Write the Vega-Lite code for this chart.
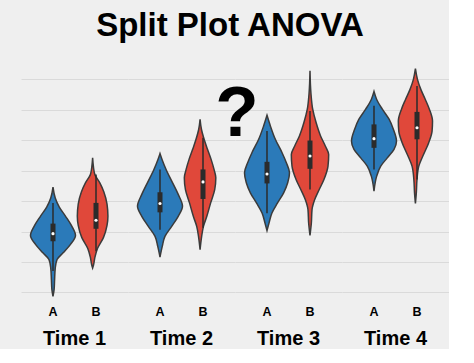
{
  "$schema": "https://vega.github.io/schema/vega-lite/v6.json",
  "background": "#efefef",
  "padding": {"left": 21, "top": 10, "right": 0, "bottom": 0},
  "bounds": "flush",
  "title": {"text": "Split Plot ANOVA", "fontSize": 33, "font": "Liberation Sans", "fontWeight": "bold", "color": "#000000", "anchor": "middle", "offset": 12, "dx": -5},
  "data": {"values": [
    {"t": "Time 1", "g": "A", "v": 3.46, "d": 0}, {"t": "Time 1", "g": "A", "v": 3.1, "d": 0.1}, {"t": "Time 1", "g": "A", "v": 2.8, "d": 0.28}, {"t": "Time 1", "g": "A", "v": 2.5, "d": 0.56}, {"t": "Time 1", "g": "A", "v": 2.17, "d": 0.84}, {"t": "Time 1", "g": "A", "v": 1.87, "d": 1.0}, {"t": "Time 1", "g": "A", "v": 1.57, "d": 0.77}, {"t": "Time 1", "g": "A", "v": 1.3, "d": 0.45}, {"t": "Time 1", "g": "A", "v": 1.08, "d": 0.18}, {"t": "Time 1", "g": "A", "v": 0.8, "d": 0.1}, {"t": "Time 1", "g": "A", "v": 0.4, "d": 0.07}, {"t": "Time 1", "g": "A", "v": 0.1, "d": 0.05}, {"t": "Time 1", "g": "A", "v": -0.13, "d": 0},
    {"t": "Time 1", "g": "B", "v": 4.42, "d": 0}, {"t": "Time 1", "g": "B", "v": 4.1, "d": 0.04}, {"t": "Time 1", "g": "B", "v": 3.87, "d": 0.1}, {"t": "Time 1", "g": "B", "v": 3.6, "d": 0.32}, {"t": "Time 1", "g": "B", "v": 3.3, "d": 0.5}, {"t": "Time 1", "g": "B", "v": 2.9, "d": 0.64}, {"t": "Time 1", "g": "B", "v": 2.5, "d": 0.68}, {"t": "Time 1", "g": "B", "v": 2.2, "d": 0.64}, {"t": "Time 1", "g": "B", "v": 1.8, "d": 0.48}, {"t": "Time 1", "g": "B", "v": 1.45, "d": 0.22}, {"t": "Time 1", "g": "B", "v": 1.15, "d": 0.1}, {"t": "Time 1", "g": "B", "v": 0.9, "d": 0.04}, {"t": "Time 1", "g": "B", "v": 0.8, "d": 0},
    {"t": "Time 2", "g": "A", "v": 4.56, "d": 0}, {"t": "Time 2", "g": "A", "v": 4.37, "d": 0.09}, {"t": "Time 2", "g": "A", "v": 4.04, "d": 0.27}, {"t": "Time 2", "g": "A", "v": 3.6, "d": 0.56}, {"t": "Time 2", "g": "A", "v": 3.22, "d": 0.81}, {"t": "Time 2", "g": "A", "v": 2.83, "d": 1.0}, {"t": "Time 2", "g": "A", "v": 2.5, "d": 0.81}, {"t": "Time 2", "g": "A", "v": 2.17, "d": 0.52}, {"t": "Time 2", "g": "A", "v": 1.84, "d": 0.22}, {"t": "Time 2", "g": "A", "v": 1.51, "d": 0.1}, {"t": "Time 2", "g": "A", "v": 1.16, "d": 0},
    {"t": "Time 2", "g": "B", "v": 5.69, "d": 0}, {"t": "Time 2", "g": "B", "v": 5.36, "d": 0.06}, {"t": "Time 2", "g": "B", "v": 5.03, "d": 0.18}, {"t": "Time 2", "g": "B", "v": 4.7, "d": 0.33}, {"t": "Time 2", "g": "B", "v": 4.37, "d": 0.49}, {"t": "Time 2", "g": "B", "v": 4.04, "d": 0.62}, {"t": "Time 2", "g": "B", "v": 3.77, "d": 0.7}, {"t": "Time 2", "g": "B", "v": 3.38, "d": 0.65}, {"t": "Time 2", "g": "B", "v": 2.94, "d": 0.47}, {"t": "Time 2", "g": "B", "v": 2.5, "d": 0.3}, {"t": "Time 2", "g": "B", "v": 2.17, "d": 0.15}, {"t": "Time 2", "g": "B", "v": 1.84, "d": 0.07}, {"t": "Time 2", "g": "B", "v": 1.4, "d": 0},
    {"t": "Time 3", "g": "A", "v": 5.82, "d": 0}, {"t": "Time 3", "g": "A", "v": 5.47, "d": 0.15}, {"t": "Time 3", "g": "A", "v": 5.03, "d": 0.37}, {"t": "Time 3", "g": "A", "v": 4.59, "d": 0.67}, {"t": "Time 3", "g": "A", "v": 4.26, "d": 0.86}, {"t": "Time 3", "g": "A", "v": 3.93, "d": 1.0}, {"t": "Time 3", "g": "A", "v": 3.6, "d": 0.92}, {"t": "Time 3", "g": "A", "v": 3.27, "d": 0.74}, {"t": "Time 3", "g": "A", "v": 2.94, "d": 0.47}, {"t": "Time 3", "g": "A", "v": 2.61, "d": 0.22}, {"t": "Time 3", "g": "A", "v": 2.28, "d": 0.09}, {"t": "Time 3", "g": "A", "v": 2.03, "d": 0},
    {"t": "Time 3", "g": "B", "v": 7.28, "d": 0}, {"t": "Time 3", "g": "B", "v": 6.56, "d": 0.04}, {"t": "Time 3", "g": "B", "v": 6.02, "d": 0.12}, {"t": "Time 3", "g": "B", "v": 5.58, "d": 0.27}, {"t": "Time 3", "g": "B", "v": 5.14, "d": 0.47}, {"t": "Time 3", "g": "B", "v": 4.81, "d": 0.68}, {"t": "Time 3", "g": "B", "v": 4.53, "d": 0.83}, {"t": "Time 3", "g": "B", "v": 4.15, "d": 0.8}, {"t": "Time 3", "g": "B", "v": 3.71, "d": 0.62}, {"t": "Time 3", "g": "B", "v": 3.38, "d": 0.41}, {"t": "Time 3", "g": "B", "v": 3.05, "d": 0.21}, {"t": "Time 3", "g": "B", "v": 2.72, "d": 0.09}, {"t": "Time 3", "g": "B", "v": 2.28, "d": 0.06}, {"t": "Time 3", "g": "B", "v": 1.87, "d": 0},
    {"t": "Time 4", "g": "A", "v": 6.6, "d": 0}, {"t": "Time 4", "g": "A", "v": 6.34, "d": 0.12}, {"t": "Time 4", "g": "A", "v": 6.02, "d": 0.37}, {"t": "Time 4", "g": "A", "v": 5.69, "d": 0.67}, {"t": "Time 4", "g": "A", "v": 5.36, "d": 0.86}, {"t": "Time 4", "g": "A", "v": 4.97, "d": 1.0}, {"t": "Time 4", "g": "A", "v": 4.7, "d": 0.89}, {"t": "Time 4", "g": "A", "v": 4.42, "d": 0.59}, {"t": "Time 4", "g": "A", "v": 4.15, "d": 0.3}, {"t": "Time 4", "g": "A", "v": 3.82, "d": 0.12}, {"t": "Time 4", "g": "A", "v": 3.33, "d": 0},
    {"t": "Time 4", "g": "B", "v": 7.35, "d": 0}, {"t": "Time 4", "g": "B", "v": 7.0, "d": 0.09}, {"t": "Time 4", "g": "B", "v": 6.67, "d": 0.24}, {"t": "Time 4", "g": "B", "v": 6.34, "d": 0.44}, {"t": "Time 4", "g": "B", "v": 6.02, "d": 0.62}, {"t": "Time 4", "g": "B", "v": 5.63, "d": 0.76}, {"t": "Time 4", "g": "B", "v": 5.3, "d": 0.74}, {"t": "Time 4", "g": "B", "v": 4.92, "d": 0.59}, {"t": "Time 4", "g": "B", "v": 4.48, "d": 0.33}, {"t": "Time 4", "g": "B", "v": 4.15, "d": 0.15}, {"t": "Time 4", "g": "B", "v": 3.71, "d": 0.07}, {"t": "Time 4", "g": "B", "v": 3.27, "d": 0.04}, {"t": "Time 4", "g": "B", "v": 2.92, "d": 0},
    {"t": "Time 1", "g": "A", "lo": 0.7, "q1": 1.68, "med": 1.93, "q3": 2.26, "hi": 2.94},
    {"t": "Time 1", "g": "B", "lo": 1.35, "q1": 2.09, "med": 2.37, "q3": 2.94, "hi": 3.87},
    {"t": "Time 2", "g": "A", "lo": 2.06, "q1": 2.63, "med": 2.92, "q3": 3.29, "hi": 4.04},
    {"t": "Time 2", "g": "B", "lo": 2.12, "q1": 3.07, "med": 3.63, "q3": 4.04, "hi": 5.08},
    {"t": "Time 3", "g": "A", "lo": 2.6, "q1": 3.58, "med": 3.89, "q3": 4.29, "hi": 5.3},
    {"t": "Time 3", "g": "B", "lo": 3.38, "q1": 4.06, "med": 4.48, "q3": 4.99, "hi": 5.96},
    {"t": "Time 4", "g": "A", "lo": 4.04, "q1": 4.75, "med": 5.05, "q3": 5.52, "hi": 6.13},
    {"t": "Time 4", "g": "B", "lo": 3.71, "q1": 5.03, "med": 5.41, "q3": 5.93, "hi": 6.78},
    {"t": "Time 3", "g": "A", "note": "?"}
  ]},
  "facet": {"column": {"field": "t", "type": "nominal", "header": {"title": null, "labelOrient": "bottom", "labelFontSize": 20, "labelFontWeight": "bold", "labelFont": "Liberation Sans", "labelColor": "#000000", "labelPadding": 29}}},
  "spacing": 0,
  "spec": {
    "width": 107,
    "height": 245,
    "layer": [
      {
        "layer": [
          {
            "transform": [{"filter": "datum.g === 'A' && isValid(datum.d)"}],
            "mark": {"type": "area", "orient": "horizontal", "interpolate": "monotone", "fill": "#2b7ab9", "stroke": "#3b3b3b", "strokeWidth": 1.5},
            "encoding": {
              "y": {"field": "v", "type": "quantitative", "title": null, "scale": {"domain": [-0.25, 7.8], "nice": false, "zero": false}},
              "x": {"field": "d", "type": "quantitative", "stack": "center", "impute": null, "scale": {"domain": [-0.2111, 2.1667], "nice": false, "zero": false}, "axis": null}
            }
          },
          {
            "transform": [{"filter": "datum.g === 'A' && isValid(datum.lo)"}],
            "mark": {"type": "rule", "color": "#2b2b2b", "strokeWidth": 1.5},
            "encoding": {"x": {"datum": 0.5, "type": "quantitative", "axis": null}, "y": {"field": "lo", "type": "quantitative", "title": null}, "y2": {"field": "hi"}}
          },
          {
            "transform": [{"filter": "datum.g === 'A' && isValid(datum.lo)"}],
            "mark": {"type": "rule", "color": "#2b2b2b", "strokeWidth": 5},
            "encoding": {"x": {"datum": 0.5, "type": "quantitative", "axis": null}, "y": {"field": "q1", "type": "quantitative", "title": null}, "y2": {"field": "q3"}}
          },
          {
            "transform": [{"filter": "datum.g === 'A' && isValid(datum.lo)"}],
            "mark": {"type": "point", "filled": true, "color": "#ffffff", "size": 10, "opacity": 1},
            "encoding": {"x": {"datum": 0.5, "type": "quantitative", "axis": null}, "y": {"field": "med", "type": "quantitative", "title": null}}
          },
          {
            "transform": [{"filter": "datum.g === 'A' && isValid(datum.lo)"}],
            "mark": {"type": "text", "fontSize": 12.5, "fontWeight": "bold", "font": "Liberation Sans", "color": "#000000", "baseline": "alphabetic", "align": "center"},
            "encoding": {"x": {"datum": 0.5, "type": "quantitative", "axis": null}, "y": {"datum": -0.78, "type": "quantitative", "title": null}, "text": {"field": "g"}}
          },
          {
            "transform": [{"filter": "isValid(datum.note)"}],
            "mark": {"type": "text", "fontSize": 71, "fontWeight": "bold", "font": "Liberation Sans", "color": "#000000", "baseline": "alphabetic", "align": "center"},
            "encoding": {"x": {"datum": -0.1667, "type": "quantitative", "axis": null}, "y": {"datum": 5.13, "type": "quantitative", "title": null}, "text": {"field": "note"}}
          }
        ]
      },
      {
        "layer": [
          {
            "transform": [{"filter": "datum.g === 'B' && isValid(datum.d)"}],
            "mark": {"type": "area", "orient": "horizontal", "interpolate": "monotone", "fill": "#e0483a", "stroke": "#3b3b3b", "strokeWidth": 1.5},
            "encoding": {
              "y": {"field": "v", "type": "quantitative", "title": null},
              "x": {"field": "d", "type": "quantitative", "stack": "center", "impute": null, "scale": {"domain": [-1.2517, 1.1261], "nice": false, "zero": false}, "axis": null}
            }
          },
          {
            "transform": [{"filter": "datum.g === 'B' && isValid(datum.lo)"}],
            "mark": {"type": "rule", "color": "#2b2b2b", "strokeWidth": 1.5},
            "encoding": {"x": {"datum": 0.415, "type": "quantitative", "axis": null}, "y": {"field": "lo", "type": "quantitative", "title": null}, "y2": {"field": "hi"}}
          },
          {
            "transform": [{"filter": "datum.g === 'B' && isValid(datum.lo)"}],
            "mark": {"type": "rule", "color": "#2b2b2b", "strokeWidth": 5},
            "encoding": {"x": {"datum": 0.415, "type": "quantitative", "axis": null}, "y": {"field": "q1", "type": "quantitative", "title": null}, "y2": {"field": "q3"}}
          },
          {
            "transform": [{"filter": "datum.g === 'B' && isValid(datum.lo)"}],
            "mark": {"type": "point", "filled": true, "color": "#ffffff", "size": 10, "opacity": 1},
            "encoding": {"x": {"datum": 0.415, "type": "quantitative", "axis": null}, "y": {"field": "med", "type": "quantitative", "title": null}}
          },
          {
            "transform": [{"filter": "datum.g === 'B' && isValid(datum.lo)"}],
            "mark": {"type": "text", "fontSize": 12.5, "fontWeight": "bold", "font": "Liberation Sans", "color": "#000000", "baseline": "alphabetic", "align": "center"},
            "encoding": {"x": {"datum": 0.415, "type": "quantitative", "axis": null}, "y": {"datum": -0.78, "type": "quantitative", "title": null}, "text": {"field": "g"}}
          }
        ]
      }
    ],
    "resolve": {"scale": {"x": "independent"}, "axis": {"x": "independent"}}
  },
  "config": {"view": {"stroke": null}, "font": "Liberation Sans", "axisY": {"labels": false, "ticks": false, "domain": false, "grid": true, "gridColor": "#dadada", "tickCount": 8, "title": null}}
}
